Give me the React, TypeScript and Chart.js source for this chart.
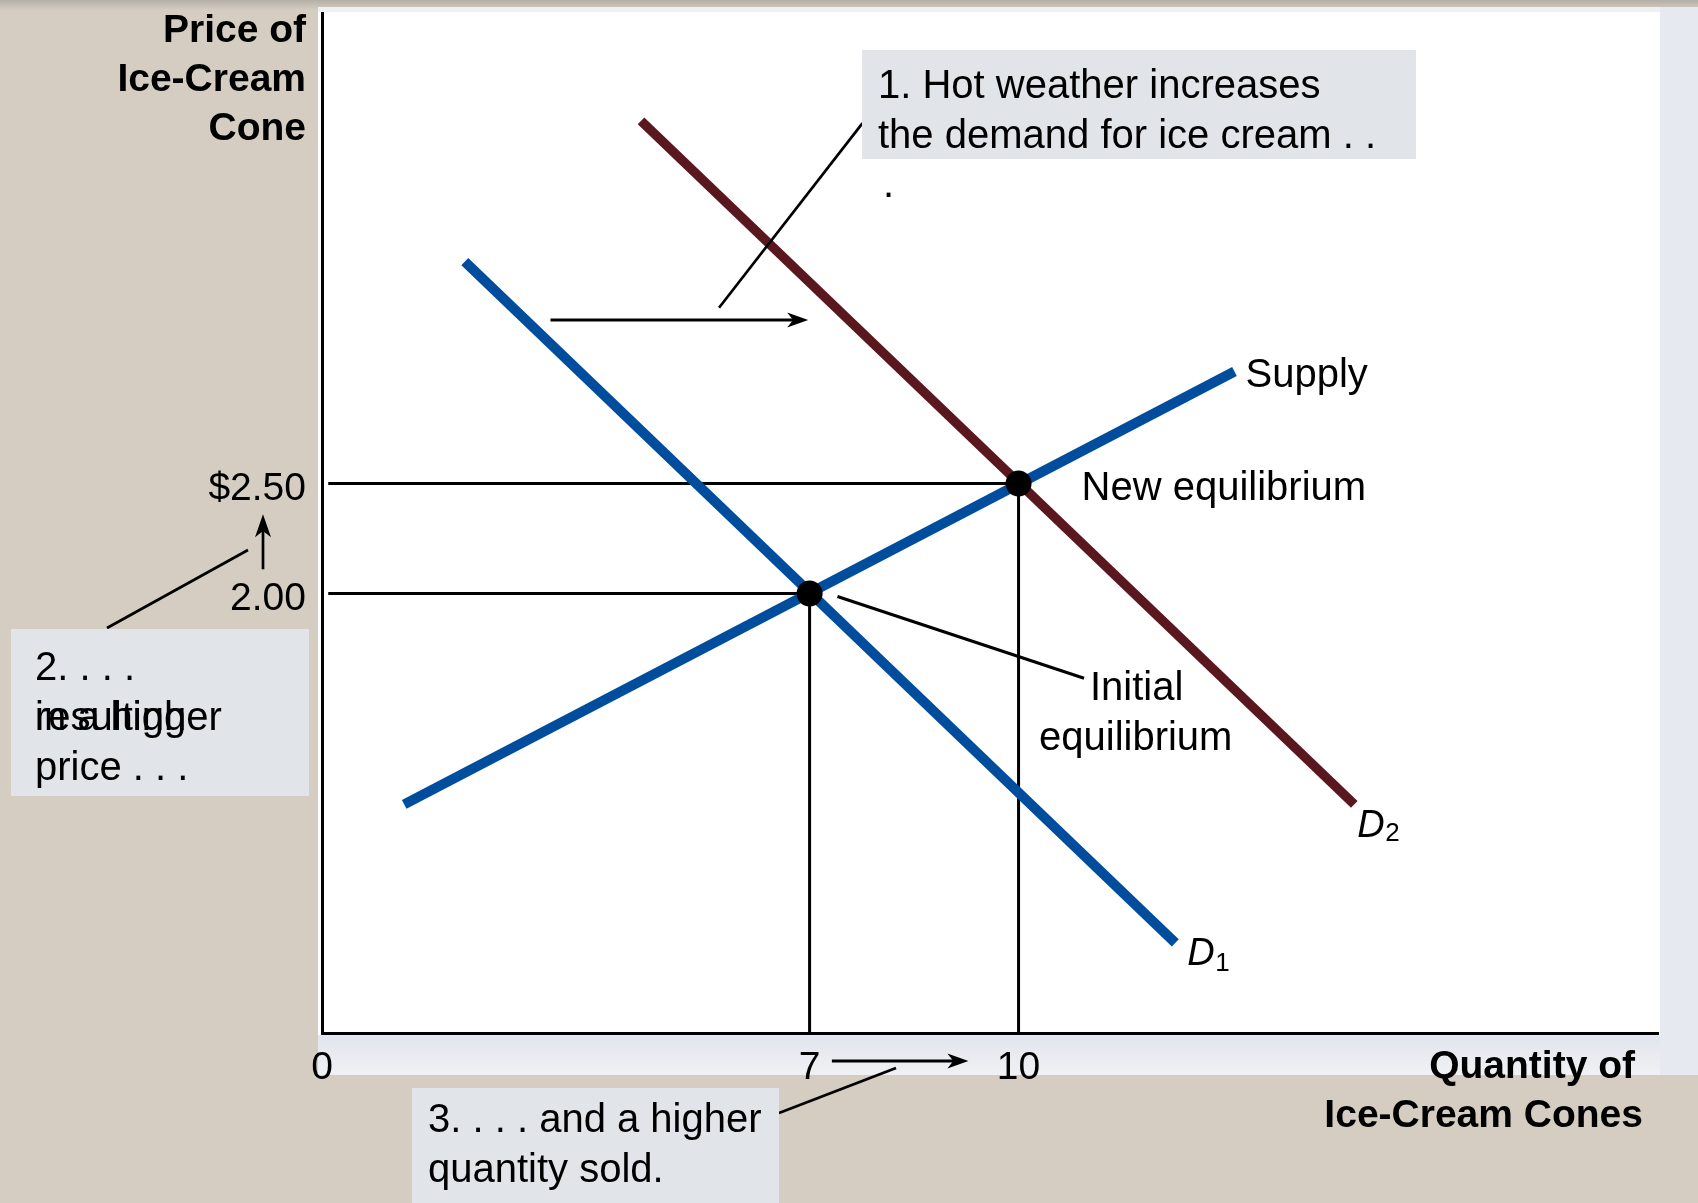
import React, { useEffect, useRef } from "react";
import { Chart, registerables } from "chart.js";

Chart.register(...registerables);

// ---------- data ----------
const xTicks = [0, 7, 10];
const xTickLabels = ["0", "7", "10"];
const yTicks = [2.0, 2.5];
const yTickLabels = ["2.00", "$2.50"];

const demand1 = [
  { x: 2.05, y: 3.51 },
  { x: 12.25, y: 0.41 },
];
const demand2 = [
  { x: 4.58, y: 4.15 },
  { x: 14.82, y: 1.04 },
];
const supply = [
  { x: 1.18, y: 1.04 },
  { x: 13.1, y: 3.01 },
];
const equilibria = [
  { x: 7, y: 2.0 },
  { x: 10, y: 2.5 },
];
const guideInitial = [
  { x: 0.09, y: 2.0 },
  { x: 7, y: 2.0 },
  { x: 7, y: 0 },
];
const guideNew = [
  { x: 0.09, y: 2.5 },
  { x: 10, y: 2.5 },
  { x: 10, y: 0 },
];
// demand-shift arrow and leader lines (data units)
const shiftArrow = [
  { x: 3.28, y: 3.244 },
  { x: 6.98, y: 3.244 },
];
const box1Leader = [
  { x: 7.76, y: 4.14 },
  { x: 5.7, y: 3.3 },
];
const initialLeader = [
  { x: 7.4, y: 1.986 },
  { x: 10.94, y: 1.614 },
];
const quantityArrowX = [7.32, 9.28];
const priceArrowY = [2.11, 2.36];

// ---------- style ----------
const FONT = '"Liberation Sans", Arial, Helvetica, sans-serif';
const BLUE = "#004d9e";
const MAROON = "#5a171e";
const BOX = "#e1e4e9";
const BEIGE = "#d5cdc2";

function arrowHead(ctx: CanvasRenderingContext2D, tx: number, ty: number, dx: number, dy: number, len: number, half: number) {
  const px = -dy, py = dx;
  const bx = tx - dx * len, by = ty - dy * len;
  const nx = tx - dx * len * 0.72, ny = ty - dy * len * 0.72;
  ctx.beginPath();
  ctx.moveTo(tx, ty);
  ctx.lineTo(bx + px * half, by + py * half);
  ctx.lineTo(nx, ny);
  ctx.lineTo(bx - px * half, by - py * half);
  ctx.closePath();
  ctx.fill();
}

function arrow(ctx: CanvasRenderingContext2D, x1: number, y1: number, x2: number, y2: number, w: number, len: number, half: number) {
  const d = Math.hypot(x2 - x1, y2 - y1);
  const dx = (x2 - x1) / d, dy = (y2 - y1) / d;
  ctx.lineWidth = w;
  ctx.beginPath();
  ctx.moveTo(x1, y1);
  ctx.lineTo(x2 - dx * len * 0.6, y2 - dy * len * 0.6);
  ctx.stroke();
  arrowHead(ctx, x2, y2, dx, dy, len, half);
}

function line(ctx: CanvasRenderingContext2D, x1: number, y1: number, x2: number, y2: number, w: number) {
  ctx.lineWidth = w;
  ctx.beginPath();
  ctx.moveTo(x1, y1);
  ctx.lineTo(x2, y2);
  ctx.stroke();
}

function text(ctx: CanvasRenderingContext2D, s: string, x: number, y: number, font: string, align: CanvasTextAlign = "left") {
  ctx.font = font;
  ctx.textAlign = align;
  ctx.textBaseline = "alphabetic";
  ctx.fillText(s, x, y);
}

const backgroundPlugin = {
  id: "pageBackground",
  beforeDraw(chart: any) {
    const ctx: CanvasRenderingContext2D = chart.ctx;
    const W = chart.width, H = chart.height;
    ctx.save();
    ctx.fillStyle = BEIGE;
    ctx.fillRect(0, 0, W, H);
    const g = ctx.createLinearGradient(0, 0, 0, 10);
    g.addColorStop(0, "#b3aea6");
    g.addColorStop(1, BEIGE);
    ctx.fillStyle = g;
    ctx.fillRect(0, 0, W, 10);
    // bluish panel
    ctx.fillStyle = "#e6e9ef";
    ctx.fillRect(318, 7, W - 318, 1068);
    ctx.fillStyle = "#eef0f4";
    ctx.fillRect(318, 7, 1342, 5);
    const g2 = ctx.createLinearGradient(0, 1036, 0, 1075);
    g2.addColorStop(0, "#e1e5ed");
    g2.addColorStop(1, "#f0f1f4");
    ctx.fillStyle = g2;
    ctx.fillRect(318, 1036, 1342, 39);
    // white plot area
    ctx.fillStyle = "#ffffff";
    ctx.fillRect(318, 12, 1342, 1023);
    ctx.restore();
  },
};

const annotationPlugin = {
  id: "econAnnotations",
  afterDraw(chart: any) {
    const ctx: CanvasRenderingContext2D = chart.ctx;
    const xs = chart.scales.x, ys = chart.scales.y;
    const X = (v: number) => xs.getPixelForValue(v);
    const Y = (v: number) => ys.getPixelForValue(v);
    const REG = `40px ${FONT}`;
    const BOLD = `bold 39px ${FONT}`;
    ctx.save();
    ctx.fillStyle = "#000";
    ctx.strokeStyle = "#000";
    ctx.lineCap = "butt";

    // axis titles
    text(ctx, "Price of", 306, 42, BOLD, "right");
    text(ctx, "Ice-Cream", 306, 91, BOLD, "right");
    text(ctx, "Cone", 306, 140, BOLD, "right");
    text(ctx, "Quantity of", 1635, 1078, BOLD, "right");
    text(ctx, "Ice-Cream Cones", 1643, 1127, BOLD, "right");

    // shift arrow + leader from box 1
    arrow(ctx, X(shiftArrow[0].x), Y(shiftArrow[0].y), X(shiftArrow[1].x), Y(shiftArrow[1].y), 3, 21, 7.5);
    line(ctx, X(box1Leader[0].x), Y(box1Leader[0].y), X(box1Leader[1].x), Y(box1Leader[1].y), 2.7);
    line(ctx, X(initialLeader[0].x), Y(initialLeader[0].y), X(initialLeader[1].x), Y(initialLeader[1].y), 3);

    // box 1
    ctx.fillStyle = BOX;
    ctx.fillRect(862, 50, 554, 109);
    ctx.fillStyle = "#000";
    text(ctx, "1. Hot weather increases", 878, 98, REG);
    text(ctx, "the demand for ice cream . .", 878, 148, REG);
    text(ctx, ".", 883, 197, REG);

    // curve labels
    const sEnd = supply[supply.length - 1];
    text(ctx, "Supply", X(sEnd.x) + 11, Y(sEnd.y) + 16, REG);
    const eNew = equilibria[1];
    text(ctx, "New equilibrium", X(eNew.x) + 63, Y(eNew.y) + 16, REG);
    text(ctx, "Initial", 1090, 700, REG);
    text(ctx, "equilibrium", 1039, 750, REG);
    const d2End = demand2[demand2.length - 1];
    text(ctx, "D", X(d2End.x) + 3, Y(d2End.y) + 33, `italic 38px ${FONT}`);
    text(ctx, "2", X(d2End.x) + 31, Y(d2End.y) + 37, `26px ${FONT}`);
    const d1End = demand1[demand1.length - 1];
    text(ctx, "D", X(d1End.x) + 12, Y(d1End.y) + 22, `italic 38px ${FONT}`);
    text(ctx, "1", X(d1End.x) + 40, Y(d1End.y) + 28, `26px ${FONT}`);

    // price arrow + box 2
    arrow(ctx, 263, Y(priceArrowY[0]), 263, Y(priceArrowY[1]), 2.7, 23, 8);
    line(ctx, 107, 628, 248, 550, 2.7);
    ctx.fillStyle = BOX;
    ctx.fillRect(11, 629, 298, 167);
    ctx.fillStyle = "#000";
    text(ctx, "2. . . .", 35, 680, REG);
    text(ctx, "resulting", 35, 730, REG);
    text(ctx, "in a higher", 35, 730, REG);
    text(ctx, "price . . .", 35, 780, REG);

    // quantity arrow + box 3
    arrow(ctx, X(quantityArrowX[0]), 1061, X(quantityArrowX[1]), 1061, 3, 21, 7.5);
    line(ctx, 779, 1113, 896, 1068, 2.7);
    ctx.fillStyle = BOX;
    ctx.fillRect(412, 1088, 367, 115);
    ctx.fillStyle = "#000";
    text(ctx, "3. . . . and a higher", 428, 1132, REG);
    text(ctx, "quantity sold.", 428, 1182, REG);

    ctx.restore();
  },
};

export default function App() {
  const ref = useRef<HTMLCanvasElement | null>(null);

  useEffect(() => {
    if (!ref.current) return;
    const lineDs = (label: string, data: any[], color: string, width: number, order: number) => ({
      type: "line" as const,
      label,
      data,
      borderColor: color,
      backgroundColor: color,
      borderWidth: width,
      pointRadius: 0,
      fill: false,
      tension: 0,
      order,
      borderCapStyle: "butt" as const,
    });
    const chart = new Chart(ref.current, {
      type: "line",
      data: {
        datasets: [
          {
            type: "scatter" as const,
            label: "Equilibria",
            data: equilibria,
            pointRadius: 13,
            pointBackgroundColor: "#000",
            pointBorderWidth: 0,
            showLine: false,
            order: 0,
          } as any,
          lineDs("D2", demand2, MAROON, 9.5, 1),
          lineDs("D1", demand1, BLUE, 10, 2),
          lineDs("Supply", supply, BLUE, 10, 3),
          lineDs("New guide", guideNew, "#000", 3, 4),
          lineDs("Initial guide", guideInitial, "#000", 3, 5),
        ],
      },
      options: {
        animation: false,
        responsive: false,
        maintainAspectRatio: false,
        layout: { padding: { left: 0, top: 12, right: 40, bottom: 0 } },
        plugins: {
          legend: { display: false },
          tooltip: { enabled: false },
        },
        scales: {
          x: {
            type: "linear",
            min: 0,
            max: 19.18,
            afterFit: (s: any) => {
              s.height = 170;
              s.paddingLeft = 0;
              s.paddingRight = 0;
            },
            afterBuildTicks: (s: any) => {
              s.ticks = xTicks.map((v) => ({ value: v }));
            },
            grid: { display: false, drawTicks: false },
            border: { display: true, color: "#000", width: 3 },
            ticks: {
              autoSkip: false,
              maxRotation: 0,
              padding: 12,
              color: "#000",
              font: { family: FONT, size: 39 },
              callback: (v: any) => xTickLabels[xTicks.indexOf(Number(v))] ?? "",
            },
          },
          y: {
            type: "linear",
            min: 0,
            max: 4.641,
            afterFit: (s: any) => {
              s.width = 322;
              s.paddingTop = 0;
              s.paddingBottom = 0;
            },
            afterBuildTicks: (s: any) => {
              s.ticks = yTicks.map((v) => ({ value: v }));
            },
            grid: { display: false, drawTicks: false },
            border: { display: true, color: "#000", width: 3 },
            ticks: {
              autoSkip: false,
              padding: 16,
              labelOffset: 6,
              color: "#000",
              font: { family: FONT, size: 39 },
              callback: (v: any) => yTickLabels[yTicks.indexOf(Number(v))] ?? "",
            },
          },
        },
      } as any,
      plugins: [backgroundPlugin, annotationPlugin],
    });
    return () => chart.destroy();
  }, []);

  return (
    <div style={{ position: "absolute", left: 0, top: 0, width: 1698, height: 1203 }}>
      <canvas ref={ref} width={1698} height={1203} style={{ display: "block" }} />
    </div>
  );
}
